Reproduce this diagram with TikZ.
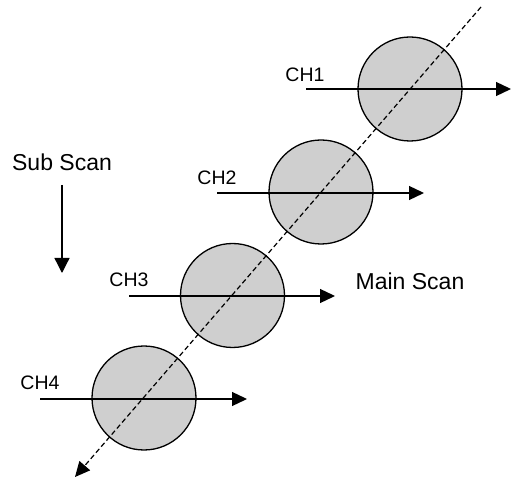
\documentclass[tikz,border=0pt]{standalone}
\usepackage{fontspec}
\setmainfont{Liberation Sans}
\usetikzlibrary{arrows.meta}
\definecolor{spotgray}{RGB}{207,207,207}
\begin{document}
\begin{tikzpicture}[x=1pt,y=-1pt,
  spot/.style={circle,draw=black,line width=1.3pt,fill=spotgray,minimum size=104pt,inner sep=0pt},
  chlabel/.style={font=\fontsize{19.5}{22}\selectfont,inner sep=0pt},
  scanlabel/.style={font=\fontsize{23}{26}\selectfont,inner sep=0pt},
  scanarrow/.style={line width=1.3pt,-{Triangle[length=15pt,width=14pt]}},
  diag/.style={line width=1.2pt,dash pattern=on 5pt off 3pt,-{Triangle[length=15pt,width=14pt]}}]
\useasboundingbox (0,0) rectangle (512,481);
% spots
\node[spot] (c1) at (410,89) {};
\node[spot] (c2) at (321,192) {};
\node[spot] (c3) at (232.5,295.5) {};
\node[spot] (c4) at (144,398) {};
% scan line arrows
\coordinate (s1) at (306,89);  \coordinate (e1) at (511,89);
\coordinate (s2) at (217,193); \coordinate (e2) at (424,193);
\coordinate (s3) at (129,296); \coordinate (e3) at (335,296);
\coordinate (s4) at (40,399);  \coordinate (e4) at (247,399);
\draw[scanarrow] (s1) -- (e1);
\draw[scanarrow] (s2) -- (e2);
\draw[scanarrow] (s3) -- (e3);
\draw[scanarrow] (s4) -- (e4);
% labels
\node[chlabel] (l1) at (305,75) {CH1};
\node[chlabel] (l2) at (217,178) {CH2};
\node[chlabel] (l3) at (129,280) {CH3};
\node[chlabel] (l4) at (40,383) {CH4};
% diagonal
\coordinate (dtop) at (481,7);
\coordinate (dbot) at (75,477);
\draw[diag] (dtop) -- (dbot);
% sub scan
\node[scanlabel] (sub) at (62,162) {Sub Scan};
\coordinate (ssa) at (62,185);
\coordinate (ssb) at (62,273);
\draw[scanarrow,-{Triangle[length=15pt,width=15pt]}] (ssa) -- (ssb);
% main scan
\node[scanlabel] (main) at (410,281) {Main Scan};
\end{tikzpicture}
\end{document}
